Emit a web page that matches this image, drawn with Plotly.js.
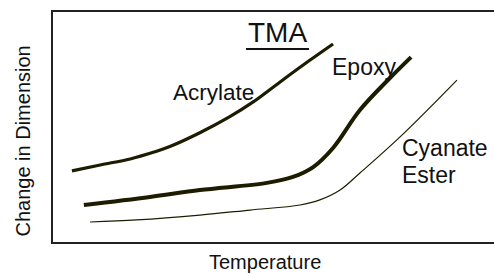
<!DOCTYPE html>
<html>
<head>
<meta charset="utf-8">
<script src="https://cdn.plot.ly/plotly-3.0.1.min.js"></script>
<style>html,body{margin:0;padding:0;background:#fff;}#chart{width:494px;height:274px;}</style>
</head>
<body>
<div id="chart"></div>
<script>
// Temperature (arbitrary units, 0-100) and change in dimension (arbitrary units, 0-100)
const acrylateT = [4.3, 10.7, 17.5, 23.1, 26.5, 33.3, 40.1, 45.4, 51.5, 58.3, 63.5];
const acrylateD = [30.9, 33.5, 36.1, 39.2, 41.5, 47.5, 54.5, 60.9, 69.6, 79.1, 86.1];
const epoxyT = [7.0, 22.0, 33.3, 48.5, 54.4, 59.0, 63.5, 69.6, 76.4, 81.2];
const epoxyD = [16.1, 19.6, 22.6, 25.7, 28.3, 32.6, 40.9, 57.4, 71.3, 80.4];
const cyanateT = [8.4, 19.0, 33.3, 44.7, 56.0, 60.5, 65.1, 69.6, 78.7, 91.6];
const cyanateD = [8.7, 9.6, 11.7, 13.9, 16.1, 18.3, 22.6, 30.0, 45.7, 70.4];
const seriesNames = ["Acrylate", "Epoxy", "Cyanate", "Ester"];
const chartTitle = "TMA";
const xTitle = "Temperature";
const yTitle = "Change in Dimension";

const ink = '#1c1c00';
const font = 'Liberation Sans, Arial, sans-serif';

const traces = [
  {x: acrylateT, y: acrylateD, mode: 'lines', line: {color: ink, width: 3.2, shape: 'spline'}, name: 'Acrylate'},
  {x: epoxyT, y: epoxyD, mode: 'lines', line: {color: ink, width: 4, shape: 'spline'}, name: 'Epoxy'},
  {x: cyanateT, y: cyanateD, mode: 'lines', line: {color: ink, width: 1.2, shape: 'spline'}, name: 'Cyanate Ester'}
];

const layout = {
  width: 494, height: 274,
  margin: {l: 53, r: 0, t: 12, b: 32, pad: 0},
  paper_bgcolor: '#fff', plot_bgcolor: '#fff',
  showlegend: false,
  font: {family: font, color: '#111'},
  xaxis: {range: [0, 100], showgrid: false, zeroline: false, showticklabels: false, ticks: '',
          showline: true, linecolor: '#222', linewidth: 2, mirror: true, fixedrange: true},
  yaxis: {range: [0, 100], showgrid: false, zeroline: false, showticklabels: false, ticks: '',
          showline: true, linecolor: '#222', linewidth: 2, mirror: false, fixedrange: true},
  shapes: [
    {type: 'line', xref: 'paper', yref: 'paper', x0: (246-53)/441, x1: (309-53)/441,
     y0: (242-49)/230, y1: (242-49)/230, line: {color: '#111', width: 2}}
  ],
  annotations: [
    {text: chartTitle, x: 50.8, y: 91.0, xref: 'x', yref: 'y', xanchor: 'center', yanchor: 'middle', showarrow: false, font: {size: 28, family: font, color: '#111'}},
    {text: seriesNames[0], x: 36.5, y: 64.8, xref: 'x', yref: 'y', xanchor: 'center', yanchor: 'middle', showarrow: false, font: {size: 22.5, family: font, color: '#111'}},
    {text: seriesNames[1], x: 70.6, y: 76.1, xref: 'x', yref: 'y', xanchor: 'center', yanchor: 'middle', showarrow: false, font: {size: 23, family: font, color: '#111'}},
    {text: seriesNames[2], x: 78.7, y: 40.9, xref: 'x', yref: 'y', xanchor: 'left', yanchor: 'middle', showarrow: false, font: {size: 23, family: font, color: '#111'}},
    {text: seriesNames[3], x: 78.7, y: 29.1, xref: 'x', yref: 'y', xanchor: 'left', yanchor: 'middle', showarrow: false, font: {size: 23, family: font, color: '#111'}},
    {text: xTitle, x: (265-53)/441, y: (242-262)/230, xref: 'paper', yref: 'paper', xanchor: 'center', yanchor: 'middle', showarrow: false, font: {size: 20, family: font, color: '#111'}},
    {text: yTitle, x: (22-53)/441, y: (242-141.5)/230, xref: 'paper', yref: 'paper', xanchor: 'center', yanchor: 'middle', textangle: -90, showarrow: false, font: {size: 20, family: font, color: '#111'}}
  ]
};

Plotly.newPlot('chart', traces, layout, {displayModeBar: false, staticPlot: true});
</script>
</body>
</html>
